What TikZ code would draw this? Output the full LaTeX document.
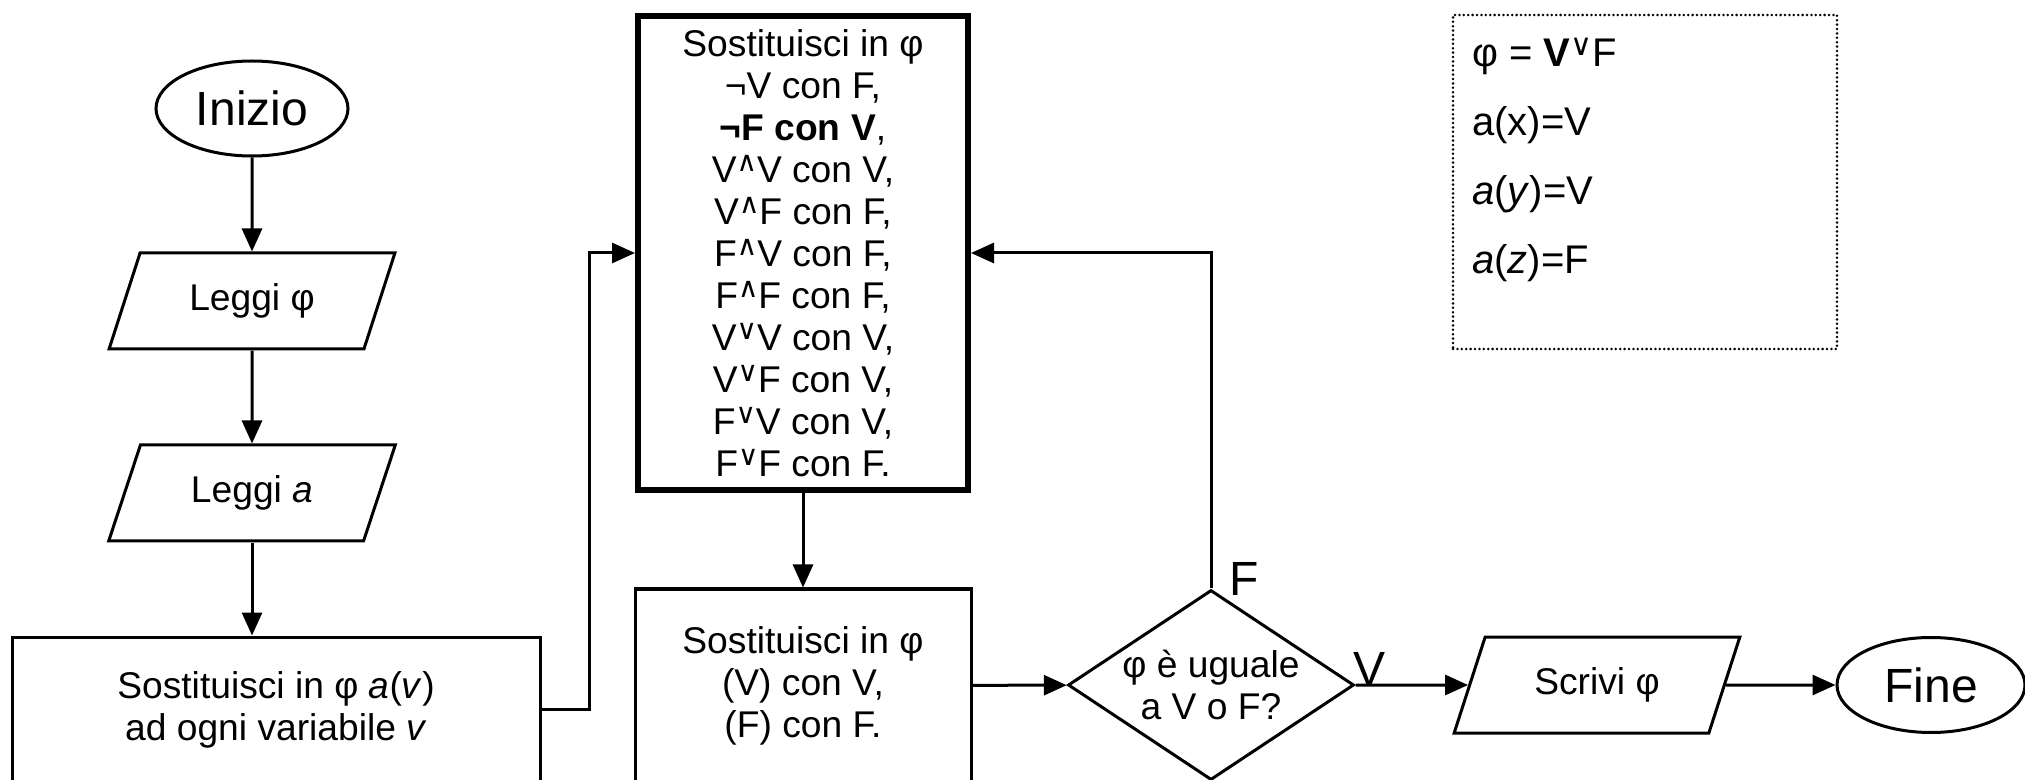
\documentclass[tikz,border=0pt]{standalone}
\usepackage{graphicx}
\usepackage{fontspec}
\setmainfont{Liberation Sans}
\newfontfamily\symfont{DejaVu Sans}
\usetikzlibrary{shapes.geometric,arrows.meta}

\newcommand\opand{\raisebox{.28em}{\scalebox{.75}{\symfont ∧}}}
\newcommand\opor{\raisebox{.28em}{\scalebox{.75}{\symfont ∨}}}

\begin{document}
\begin{tikzpicture}[x=.5pt, y=-.5pt,
  every node/.style={font=\fontsize{18.6}{21}\selectfont, align=center},
  base/.style={draw, line width=1.5pt, inner sep=0pt},
  terminal/.style={base, ellipse, minimum width=96pt, minimum height=47.5pt,
    font=\fontsize{24}{28}\selectfont},
  io/.style={base, trapezium, trapezium left angle=63.4, trapezium right angle=116.6,
    trapezium stretches=true, minimum width=144pt, minimum height=48pt},
  process/.style={base, rectangle, minimum width=168pt},
  decision/.style={base, diamond, aspect=1.5, minimum width=143pt, minimum height=95pt},
  flow/.style={line width=1.5pt, -{Triangle[length=11.5pt,width=10pt]}},
  branch/.style={font=\fontsize{24}{28}\selectfont, inner sep=0pt}]
  \useasboundingbox (0,0) rectangle (2025,780);

  \node[terminal] (start)  at (252,108.5) {Inizio};
  \node[io]       (readphi) at (252,301) {Leggi φ};
  \node[io]       (reada)  at (252,493) {Leggi \textit{a}};
  \node[process, minimum width=264pt, minimum height=72.5pt] (assign) at (276,709.5)
    {Sostituisci in φ \textit{a}(\textit{v})\\ ad ogni variabile \textit{v}};
  \node[process, line width=3pt, minimum width=165pt, minimum height=237pt] (rules) at (803,253)
    {Sostituisci in φ\\ ¬V con F,\\ \textbf{¬F con V},\\ V\opand V con V,\\ V\opand F con F,\\
     F\opand V con F,\\ F\opand F con F,\\ V\opor V con V,\\ V\opor F con V,\\ F\opor V con V,\\
     F\opor F con F.};
  \node[process, minimum height=96.5pt] (subst) at (803,685.5)
    {Sostituisci in φ\\ (V) con V,\\ (F) con F.};
  \node[decision] (test)   at (1211,685) {φ è uguale\\ a V o F?};
  \node[io]       (write)  at (1597,685) {Scrivi φ};
  \node[terminal, minimum width=94pt] (stop) at (1931,685) {Fine};

  \node[draw, line width=1.4pt, line cap=round, dash pattern=on 0pt off 2.2pt, minimum width=192pt,
    minimum height=167pt, inner sep=0pt] (legend) at (1645,182) {};
  \node[anchor=base west, align=left, inner sep=0pt, font=\fontsize{20}{34.5}\selectfont]
    (legendtext) at (1472,274)
    {φ = \textbf{V}\opor F\\ a(x)=V\\ \textit{a}(\textit{y})=V\\ \textit{a}(\textit{z})=F};

  \draw[flow] (start) -- (readphi);
  \draw[flow] (readphi) -- (reada);
  \draw[flow] (reada.south) -- (reada.south |- assign.north);
  \draw[flow] (assign.east) -- ++(48,0) |- (rules.west);
  \draw[flow] (rules) -- (subst);
  \draw[flow] (subst) -- (test);
  \draw[flow] (test.north) |- (rules.east);
  \draw[flow] (test.east) -- (write.west);
  \draw[flow] (write.east) -- (stop.west);

  \node[branch, anchor=base west] (labelF) at ([shift={(18,7)}]test.north) {F};
  \node[branch, anchor=base west] (labelV) at ([shift={(-2,0)}]test.east) {V};
\end{tikzpicture}
\end{document}
